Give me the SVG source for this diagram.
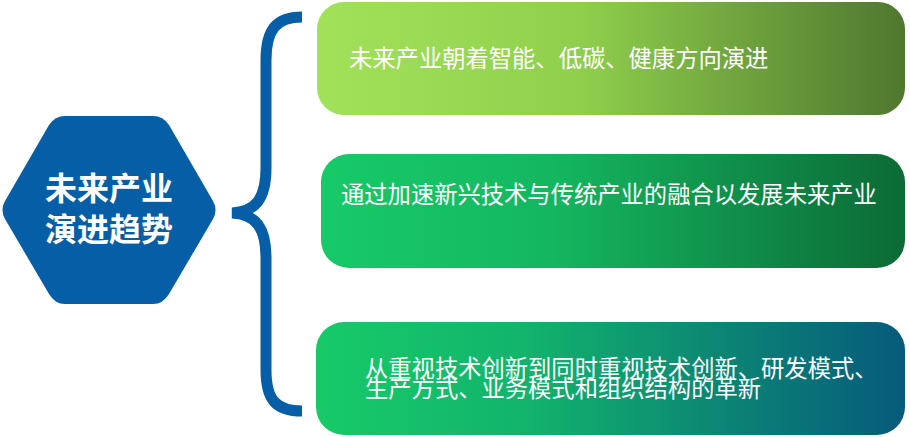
<svg xmlns="http://www.w3.org/2000/svg" width="910" height="437" viewBox="0 0 910 437">
<style>
.t{font-family:"Noto Sans CJK SC","Noto Sans",sans-serif;fill:#ffffff;font-size:23.3px}
.h{font-family:"Noto Sans CJK SC","Noto Sans",sans-serif;fill:#ffffff;font-size:32px;font-weight:bold}
</style>
<defs>
<linearGradient id="g1" x1="0" y1="0" x2="1" y2="0"><stop offset="0" stop-color="#a2e25a"/><stop offset="0.45" stop-color="#8fcf4c"/><stop offset="1" stop-color="#4f772f"/></linearGradient>
<linearGradient id="g2" x1="0" y1="0" x2="1" y2="0"><stop offset="0" stop-color="#17ca68"/><stop offset="0.4" stop-color="#14b660"/><stop offset="1" stop-color="#0c6a35"/></linearGradient>
<linearGradient id="g3" x1="0" y1="0" x2="1" y2="0"><stop offset="0" stop-color="#17ca68"/><stop offset="0.35" stop-color="#12b46c"/><stop offset="1" stop-color="#065a7c"/></linearGradient>
</defs>
<g id="hub">
<path d="M5,201 L49,125 Q55,116 65,116 L153,116 Q163,116 169,125 L213,201 Q218,210 213,219 L169,294 Q163,304 153,304 L65,304 Q55,304 49,294 L5,219 Q0,210 5,201 Z" fill="#065ea6"/>
<text class="h" x="109" y="200" text-anchor="middle">未来产业</text>
<text class="h" x="109" y="241" text-anchor="middle">演进趋势</text>
</g>
<g id="connectors">
<path d="M302,17 C276,17 266,30 266,60 L266,168 C266,198 256,212 232,213 C256,214 266,228 266,258 L266,370 C266,400 276,411 302,411" fill="none" stroke="#065ea6" stroke-width="11"/>
</g>
<g id="box1">
<rect x="317" y="2" width="588" height="113" rx="27" fill="url(#g1)"/>
<text class="t" x="349" y="67">未来产业朝着智能、低碳、健康方向演进</text>
</g>
<g id="box2">
<rect x="321" y="154" width="584" height="114" rx="28" fill="url(#g2)"/>
<text class="t" x="341" y="203">通过加速新兴技术与传统产业的融合以发展未来产业</text>
</g>
<g id="box3">
<rect x="316" y="322" width="589" height="113" rx="28" fill="url(#g3)"/>
<text class="t" x="365" y="377">从重视技术创新到同时重视技术创新、研发模式、</text>
<text class="t" x="365" y="397">生产方式、业务模式和组织结构的革新</text>
</g>
</svg>
